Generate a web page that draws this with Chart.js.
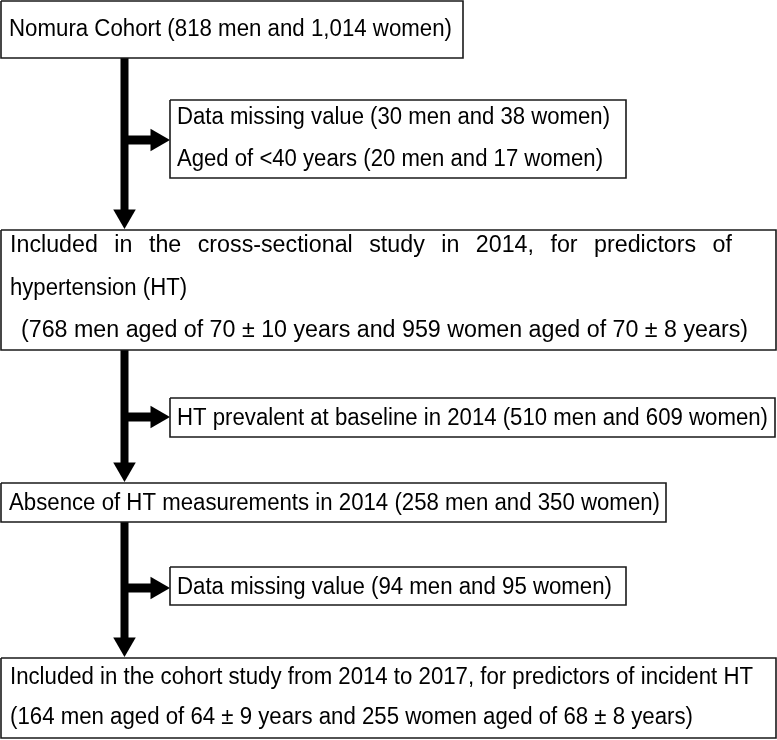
<!DOCTYPE html>
<html>
<head>
<meta charset="utf-8">
<script src="https://cdn.jsdelivr.net/npm/chart.js@4.4.1/dist/chart.umd.min.js"></script>
<style>
  html, body { margin: 0; padding: 0; background: #fff; }
  #wrap { width: 777px; height: 740px; position: relative; }
</style>
</head>
<body>
<div id="wrap"><canvas id="flow"></canvas></div>
<script>
// Text of each box, top to bottom
const boxLines = [
  ["Nomura Cohort (818 men and 1,014 women)"],
  ["Data missing value (30 men and 38 women)", "Aged of <40 years (20 men and 17 women)"],
  ["Included in the cross-sectional study in 2014, for predictors of",
   "hypertension (HT)",
   "(768 men aged of 70 ± 10 years and 959 women aged of 70 ± 8 years)"],
  ["HT prevalent at baseline in 2014 (510 men and 609 women)"],
  ["Absence of HT measurements in 2014 (258 men and 350 women)"],
  ["Data missing value (94 men and 95 women)"],
  ["Included in the cohort study from 2014 to 2017, for predictors of incident HT",
   "(164 men aged of 64 ± 9 years and 255 women aged of 68 ± 8 years)"]
];

// Layout (canvas units, y grows downward)
const W = 777, H = 740;
const FONT = '23px "Liberation Sans", Arial, Helvetica, sans-serif';
const boxRect = [
  [1, 1, 463, 58],
  [170, 100, 626, 178],
  [1, 230, 776, 350],
  [170, 398, 775, 437],
  [1, 483, 666, 522],
  [170, 567, 626, 605],
  [1, 658, 776, 738]
];
// per line: [x start, baseline, x end, mode]
const linePlace = [
  [[9, 36, 452]],
  [[177, 124, 610], [177, 166, 603]],
  [[10, 252, 732, "justify"], [10, 295, 187], [21, 337, 748]],
  [[177, 425, 768]],
  [[9, 510, 660]],
  [[177, 594, 612]],
  [[10, 684, 753], [10, 724, 693]]
];
const shaftX = 124.5;
const shafts = [[58, 211], [350, 464], [522, 639]];
const branchY = [140, 417, 588];
const branchEnd = 152;
const downTip = [229, 482, 657];
const rightTip = 170;
const headR = 13;

function rectPoints(r) {
  const [x0, y0, x1, y1] = r;
  return [{x: x0, y: y0}, {x: x1, y: y0}, {x: x1, y: y1}, {x: x0, y: y1}, {x: x0, y: y0}];
}

const datasets = [];
boxRect.forEach((r) => {
  datasets.push({
    data: rectPoints(r), showLine: true, borderColor: "#1a1a1a", borderWidth: 1.6,
    pointRadius: 0, borderJoinStyle: "miter", clip: false
  });
});
shafts.forEach(([a, b]) => {
  datasets.push({
    data: [{x: shaftX, y: a}, {x: shaftX, y: b}], showLine: true,
    borderColor: "#000", borderWidth: 8, pointRadius: 0, borderCapStyle: "butt", clip: false
  });
});
branchY.forEach((by) => {
  datasets.push({
    data: [{x: shaftX, y: by}, {x: branchEnd, y: by}], showLine: true,
    borderColor: "#000", borderWidth: 9, pointRadius: 0, borderCapStyle: "butt", clip: false
  });
});
datasets.push({
  data: downTip.map((t) => ({x: shaftX, y: t - headR})),
  pointStyle: "triangle", rotation: 180, pointRadius: headR,
  pointBackgroundColor: "#000", pointBorderColor: "#000", pointBorderWidth: 0, clip: false
});
datasets.push({
  data: branchY.map((by) => ({x: rightTip - headR, y: by})),
  pointStyle: "triangle", rotation: 90, pointRadius: headR,
  pointBackgroundColor: "#000", pointBorderColor: "#000", pointBorderWidth: 0, clip: false
});

function drawFitted(ctx, txt, px, py, width) {
  const sx = width / ctx.measureText(txt).width;
  ctx.save();
  ctx.translate(px, py);
  ctx.scale(sx, 1);
  ctx.fillText(txt, 0, 0);
  ctx.restore();
  return sx;
}

function drawJustified(ctx, txt, px, py, width, sx) {
  const words = txt.split(" ");
  const widths = words.map((w) => ctx.measureText(w).width * sx);
  const total = widths.reduce((s, v) => s + v, 0);
  const gap = (width - total) / (words.length - 1);
  let cx = px;
  words.forEach((w, i) => {
    ctx.save();
    ctx.translate(cx, py);
    ctx.scale(sx, 1);
    ctx.fillText(w, 0, 0);
    ctx.restore();
    cx += widths[i] + gap;
  });
}

const boxText = {
  id: "boxText",
  afterDatasetsDraw(chart) {
    const { ctx, scales: { x, y } } = chart;
    ctx.save();
    ctx.fillStyle = "#000";
    ctx.font = FONT;
    ctx.textBaseline = "alphabetic";
    boxLines.forEach((lines, b) => {
      const place = linePlace[b];
      // condense ratio taken from the box's last line, used for justified lines
      const last = place[place.length - 1];
      const refSx = (last[2] - last[0]) / ctx.measureText(lines[lines.length - 1]).width;
      lines.forEach((txt, i) => {
        const [x0, base, x1, mode] = place[i];
        const px0 = x.getPixelForValue(x0);
        const px1 = x.getPixelForValue(x1);
        const py = y.getPixelForValue(base);
        if (mode === "justify") drawJustified(ctx, txt, px0, py, px1 - px0, refSx);
        else drawFitted(ctx, txt, px0, py, px1 - px0);
      });
    });
    ctx.restore();
  }
};

new Chart(document.getElementById("flow"), {
  type: "scatter",
  data: { datasets },
  options: {
    responsive: true,
    maintainAspectRatio: false,
    animation: false,
    layout: { padding: 0, autoPadding: false },
    scales: {
      x: { type: "linear", min: 0, max: W, display: false },
      y: { type: "linear", min: 0, max: H, reverse: true, display: false }
    },
    plugins: { legend: { display: false }, tooltip: { enabled: false } },
    elements: { line: { tension: 0 } }
  },
  plugins: [boxText]
});
</script>
</body>
</html>
